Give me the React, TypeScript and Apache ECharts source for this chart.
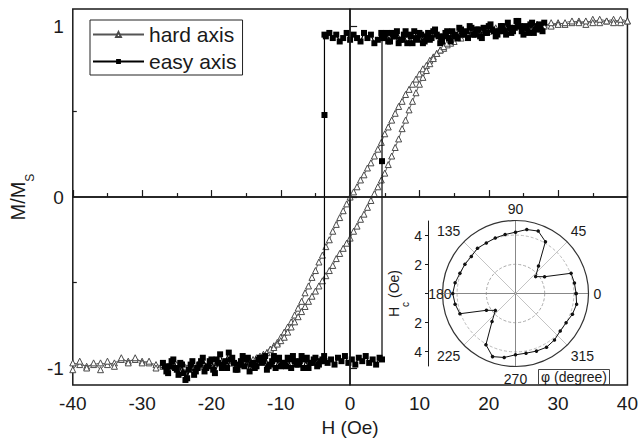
import { useEffect, useRef } from 'react';
import * as echarts from 'echarts';

// Hard axis loop: descending branch (H from +40 to -40) and ascending branch
const hardDown: [number, number][] = [
  [40, 1.03], [39, 1.02], [38, 1.04], [37, 1.03], [36, 1.02], [35, 1.04], [34, 1.01], [33, 1.03],
  [32, 1.02], [31, 1.01], [30, 1.02], [29, 1.0], [28, 1.01], [27, 0.99], [26, 1.0], [25, 0.99],
  [24, 1.0], [23, 0.98], [22, 0.99], [21, 0.98], [20, 0.97], [19, 0.98], [18, 0.96], [17, 0.95],
  [16, 0.93], [15.5, 0.93], [15, 0.91], [14.5, 0.9], [14, 0.89], [13.5, 0.87], [13, 0.86], [12.5, 0.84],
  [12, 0.82], [11.5, 0.8], [11, 0.77], [10.5, 0.75], [10, 0.72], [9.5, 0.69], [9, 0.66], [8.5, 0.63],
  [8, 0.6], [7.5, 0.56], [7, 0.53], [6.5, 0.49], [6, 0.45], [5.5, 0.41], [5, 0.37], [4.5, 0.32],
  [4, 0.28], [3.5, 0.24], [3, 0.2], [2.5, 0.17], [2, 0.13], [1.5, 0.1], [1, 0.06], [0.5, 0.03],
  [0, 0.0], [-0.5, -0.04], [-1, -0.08], [-1.5, -0.12], [-2, -0.16], [-2.5, -0.2], [-3, -0.25], [-3.5, -0.29],
  [-4, -0.34], [-4.5, -0.38], [-5, -0.43], [-5.5, -0.47], [-6, -0.52], [-6.5, -0.56], [-7, -0.61], [-7.5, -0.65],
  [-8, -0.69], [-8.5, -0.73], [-9, -0.76], [-9.5, -0.79], [-10, -0.82], [-10.5, -0.85], [-11, -0.87], [-11.5, -0.89],
  [-12, -0.91], [-12.5, -0.92], [-13, -0.94], [-13.5, -0.95], [-14, -0.96], [-14.5, -0.96], [-15, -0.97], [-15.5, -0.97],
  [-16, -0.98], [-17, -0.97], [-18, -0.98], [-19, -0.97], [-20, -0.98], [-21, -0.99], [-22, -0.98], [-23, -0.99],
  [-24, -0.98], [-25, -0.99], [-26, -0.98], [-27, -0.99], [-28, -0.98], [-29, -0.97], [-30, -0.96], [-31, -0.95],
  [-32, -0.96], [-33, -0.95], [-34, -0.97], [-35, -0.98], [-36, -0.97], [-37, -0.98], [-38, -0.99], [-39, -0.98],
  [-40, -0.97],
];

const hardUp: [number, number][] = [
  [-40, -1.01], [-39, -0.96], [-38, -1.0], [-37, -0.97], [-36, -1.01], [-35, -0.96], [-34, -0.99], [-33, -0.94],
  [-32, -0.97], [-31, -0.94], [-30, -0.97], [-29, -0.96], [-28, -1.0], [-27, -0.98], [-26, -0.99], [-25, -0.98],
  [-24, -0.99], [-23, -0.98], [-22, -0.99], [-21, -0.98], [-20, -0.98], [-19, -0.97], [-18, -0.98], [-17, -0.97],
  [-16, -0.97], [-15.5, -0.96], [-15, -0.96], [-14.5, -0.95], [-14, -0.95], [-13.5, -0.94], [-13, -0.93], [-12.5, -0.92],
  [-12, -0.91], [-11.5, -0.89], [-11, -0.88], [-10.5, -0.86], [-10, -0.84], [-9.5, -0.82], [-9, -0.79], [-8.5, -0.76],
  [-8, -0.73], [-7.5, -0.7], [-7, -0.67], [-6.5, -0.64], [-6, -0.61], [-5.5, -0.58], [-5, -0.55], [-4.5, -0.52],
  [-4, -0.49], [-3.5, -0.46], [-3, -0.43], [-2.5, -0.4], [-2, -0.36], [-1.5, -0.33], [-1, -0.3], [-0.5, -0.27],
  [0, -0.24], [0.5, -0.2], [1, -0.17], [1.5, -0.13], [2, -0.1], [2.5, -0.06], [3, -0.02], [3.5, 0.02],
  [4, 0.06], [4.5, 0.1], [5, 0.14], [5.5, 0.19], [6, 0.24], [6.5, 0.29], [7, 0.34], [7.5, 0.4],
  [8, 0.45], [8.5, 0.51], [9, 0.56], [9.5, 0.61], [10, 0.66], [10.5, 0.7], [11, 0.74], [11.5, 0.78],
  [12, 0.81], [12.5, 0.84], [13, 0.86], [13.5, 0.88], [14, 0.9], [14.5, 0.92], [15, 0.93], [15.5, 0.94],
  [16, 0.95], [17, 0.96], [18, 0.97], [19, 0.98], [20, 0.98], [21, 0.99], [22, 0.98], [23, 0.99],
  [24, 1.0], [25, 0.99], [26, 1.0], [27, 1.01], [28, 1.0], [29, 1.02], [30, 1.01], [31, 1.02],
  [32, 1.03], [33, 1.02], [34, 1.03], [35, 1.02], [36, 1.04], [37, 1.03], [38, 1.02], [39, 1.04],
  [40, 1.03],
];

// Easy axis square loop: descending branch then ascending branch
const easyDown: [number, number][] = [
  [28, 1.02], [27.5, 0.98], [27, 1.0], [26.5, 0.96], [26, 1.01], [25.5, 0.99], [25, 0.95], [24.5, 1.0],
  [24, 1.03], [23.5, 0.97], [23, 0.99], [22.5, 0.95], [22, 1.0], [21.5, 0.97], [21, 0.94], [20.5, 0.98],
  [20, 1.0], [19.5, 0.96], [19, 0.93], [18.5, 0.98], [18, 0.95], [17.5, 0.99], [17, 0.93], [16.5, 0.96],
  [16, 0.98], [15.5, 0.93], [15, 0.95], [14.5, 0.91], [14, 0.97], [13.5, 0.94], [13, 0.9], [12.5, 0.95],
  [12, 0.97], [11.5, 0.92], [11, 0.94], [10.5, 0.9], [10, 0.96], [9.5, 0.93], [9, 0.9], [8.5, 0.95],
  [8, 0.97], [7.5, 0.92], [7, 0.9], [6.5, 0.94], [6, 0.96], [5.5, 0.91], [5, 0.93], [4.5, 0.96],
  [4, 0.92], [3.5, 0.9], [3, 0.95], [2.5, 0.93], [2, 0.96], [1.5, 0.91], [1, 0.93], [0.5, 0.95],
  [0, 0.92], [-0.5, 0.96], [-1, 0.93], [-1.5, 0.91], [-2, 0.95], [-2.5, 0.93], [-3, 0.96], [-3.5, 0.94],
  [-3.7, 0.95], [-3.7, 0.48], [-3.7, -0.96],
  [-4, -0.95], [-4.5, -0.98], [-5, -0.94], [-5.5, -0.97], [-6, -1.0], [-6.5, -0.95], [-7, -0.93], [-7.5, -0.98],
  [-8, -0.96], [-8.5, -1.0], [-9, -0.94], [-9.5, -0.97], [-10, -0.99], [-10.5, -0.95], [-11, -0.93], [-11.5, -0.98],
  [-12, -1.01], [-12.5, -0.96], [-13, -0.94], [-13.5, -0.99], [-14, -0.97], [-14.5, -1.02], [-15, -0.95], [-15.5, -0.93],
  [-16, -0.98], [-16.5, -1.01], [-17, -0.94], [-17.5, -0.91], [-18, -0.96], [-18.5, -1.0], [-19, -0.97], [-19.5, -1.03],
  [-20, -0.95], [-20.5, -0.99], [-21, -1.02], [-21.5, -0.96], [-22, -1.0], [-22.5, -1.04], [-23, -0.98], [-23.5, -1.06],
  [-24, -1.03], [-24.5, -0.97], [-25, -1.01], [-25.5, -0.95], [-26, -0.99], [-26.5, -1.02], [-27, -0.97],
];

const easyUp: [number, number][] = [
  [-26.75, -0.99], [-26.25, -1.03], [-25.75, -0.96], [-25.25, -1.0], [-24.75, -1.04], [-24.25, -0.98], [-23.75, -1.07], [-23.25, -1.01],
  [-22.75, -0.96], [-22.25, -1.02], [-21.75, -0.98], [-21.25, -0.94], [-20.75, -1.0], [-20.25, -0.96], [-19.75, -1.01], [-19.25, -0.95],
  [-18.75, -0.92], [-18.25, -0.98], [-17.75, -1.0], [-17.25, -0.95], [-16.75, -0.97], [-16.25, -1.01], [-15.75, -0.96], [-15.25, -0.99],
  [-14.75, -0.94], [-14.25, -0.98], [-13.75, -1.0], [-13.25, -0.95], [-12.75, -0.97], [-12.25, -0.93], [-11.75, -0.99], [-11.25, -0.96],
  [-10.75, -1.0], [-10.25, -0.94], [-9.75, -0.97], [-9.25, -0.99], [-8.75, -0.95], [-8.25, -0.93], [-7.75, -0.98], [-7.25, -0.96],
  [-6.75, -1.0], [-6.25, -0.94], [-5.75, -0.97], [-5.25, -0.95], [-4.75, -0.99], [-4.25, -0.96], [-3.75, -0.93], [-3.25, -0.97],
  [-2.75, -0.95], [-2.25, -0.98], [-1.75, -0.94], [-1.25, -0.96], [-0.75, -0.93], [-0.25, -0.97], [0.25, -0.95], [0.75, -0.98],
  [1.25, -0.94], [1.75, -0.96], [2.25, -0.93], [2.75, -0.97], [3.25, -0.95], [3.75, -0.98], [4.25, -0.94],
  [4.6, -0.95], [4.6, 0.21], [4.6, 0.95],
  [4.75, 0.93], [5.25, 0.96], [5.75, 0.91], [6.25, 0.94], [6.75, 0.97], [7.25, 0.92], [7.75, 0.95], [8.25, 0.9],
  [8.75, 0.94], [9.25, 0.97], [9.75, 0.92], [10.25, 0.95], [10.75, 0.91], [11.25, 0.96], [11.75, 0.93], [12.25, 0.98],
  [12.75, 0.94], [13.25, 0.91], [13.75, 0.96], [14.25, 0.93], [14.75, 0.97], [15.25, 0.94], [15.75, 0.99], [16.25, 0.95],
  [16.75, 0.97], [17.25, 1.0], [17.75, 0.95], [18.25, 0.98], [18.75, 0.94], [19.25, 0.99], [19.75, 0.96], [20.25, 1.01],
  [20.75, 0.97], [21.25, 0.95], [21.75, 1.0], [22.25, 0.97], [22.75, 1.02], [23.25, 0.96], [23.75, 0.99], [24.25, 1.03],
  [24.75, 0.97], [25.25, 1.0], [25.75, 0.96], [26.25, 1.02], [26.75, 0.98], [27.25, 1.01], [27.75, 0.97],
];

// Inset: coercive field vs angle
const polarAngles = [
  0, 10, 20, 30, 40, 50, 60, 70, 80, 90, 100, 110, 120, 130, 140, 150, 160, 170, 180,
  190, 200, 210, 220, 230, 240, 250, 260, 270, 280, 290, 300, 310, 320, 330, 340, 350, 360,
];
const polarHc = [
  4.15, 4.1, 4.05, 2.3, 1.8, 2.45, 4.1, 4.55, 4.45, 4.2, 4.1, 4.05, 4.0, 4.05, 3.95, 4.0, 4.05, 4.2, 4.3,
  4.2, 4.05, 2.3, 1.8, 2.5, 4.05, 4.6, 4.45, 4.2, 4.15, 4.2, 4.25, 4.15, 4.0, 4.0, 4.15, 4.25, 4.15,
];

const yTickValues = [-1, 0, 1];
const yMinorTickValues = [-0.5, 0.5];
const radialLabelValues = [-4, -2, 2, 4];
const radialTickValues = [-4, -2, 0, 2, 4];

const FONT = '"Liberation Sans", Arial, Helvetica, sans-serif';
const INK = '#1a1a1a';

export default function App() {
  const ref = useRef<HTMLDivElement>(null);

  useEffect(() => {
    const chart = echarts.init(ref.current!, null, { renderer: 'svg' });
    const hardStyle = {
      type: 'line',
      xAxisIndex: 0,
      yAxisIndex: 0,
      symbol: 'triangle',
      symbolSize: 6,
      itemStyle: { color: '#ffffff', borderColor: '#4a4a4a', borderWidth: 1 },
      lineStyle: { color: '#555', width: 0.9 },
      z: 2,
    };
    const easyStyle = {
      type: 'line',
      xAxisIndex: 0,
      yAxisIndex: 0,
      symbol: 'rect',
      symbolSize: 6,
      itemStyle: { color: '#000' },
      lineStyle: { color: '#000', width: 1.2 },
      z: 3,
    };
    chart.setOption({
      animation: false,
      backgroundColor: '#ffffff',
      textStyle: { fontFamily: FONT },
      title: {
        text: 'φ (degree)',
        left: 538,
        top: 369,
        padding: [1, 3, 1, 3],
        borderColor: '#444',
        borderWidth: 1,
        textStyle: { fontSize: 14, fontWeight: 'normal', color: INK, fontFamily: FONT },
      },
      legend: {
        left: 90,
        top: 20,
        orient: 'vertical',
        padding: [4, 6, 3, 2],
        itemGap: 6,
        itemWidth: 51,
        itemHeight: 6,
        borderColor: '#222',
        borderWidth: 1,
        textStyle: { fontSize: 21, color: INK, fontFamily: FONT },
        data: ['hard axis', 'easy axis'],
      },
      grid: [
        { left: 70, right: 12, top: 9, bottom: 54, show: true, borderColor: INK, borderWidth: 1.5 },
        { left: 428, top: 221, width: 1, height: 145, show: false },
      ],
      xAxis: [
        {
          gridIndex: 0,
          type: 'value',
          min: -40,
          max: 40,
          interval: 10,
          name: 'H (Oe)',
          nameLocation: 'middle',
          nameGap: 30,
          nameTextStyle: { fontSize: 19, color: INK, fontFamily: FONT },
          axisLine: { lineStyle: { color: INK, width: 1.5 } },
          axisTick: { inside: true, length: 7, lineStyle: { color: INK, width: 1.2 } },
          minorTick: { show: true, splitNumber: 2, length: 4, lineStyle: { color: INK, width: 1.2 } },
          axisLabel: { fontSize: 19, color: INK, margin: 9, fontFamily: FONT },
          splitLine: { show: false },
        },
        { gridIndex: 1, type: 'value', min: 0, max: 1, show: false },
      ],
      yAxis: [
        {
          gridIndex: 0,
          type: 'value',
          position: 'left',
          min: -1.1,
          max: 1.1,
          name: '{m|M/M}{s|S}',
          nameLocation: 'middle',
          nameRotate: 90,
          nameGap: 30,
          nameTextStyle: {
            color: INK,
            rich: {
              m: { fontSize: 20, lineHeight: 36, verticalAlign: 'middle', color: INK, fontFamily: FONT },
              s: { fontSize: 12, lineHeight: 12, verticalAlign: 'bottom', color: INK, fontFamily: FONT },
            },
          },
          axisLine: { lineStyle: { color: INK, width: 1.5 } },
          axisTick: { inside: true, length: 7, customValues: yTickValues, lineStyle: { color: INK, width: 1.2 } },
          axisLabel: { customValues: yTickValues, fontSize: 19, color: INK, margin: 9, fontFamily: FONT },
          splitLine: { show: false },
        },
        {
          gridIndex: 0,
          type: 'value',
          position: 'left',
          min: -1.1,
          max: 1.1,
          axisLine: { show: false },
          axisTick: { inside: true, length: 4, customValues: yMinorTickValues, lineStyle: { color: INK, width: 1.2 } },
          axisLabel: { show: false },
          splitLine: { show: false },
        },
        {
          gridIndex: 1,
          type: 'value',
          position: 'left',
          min: -5,
          max: 5,
          name: '{m|H}{s|c}{m| (Oe)}',
          nameLocation: 'middle',
          nameRotate: 90,
          nameGap: 10,
          nameTextStyle: {
            color: INK,
            rich: {
              m: { fontSize: 14, lineHeight: 32, verticalAlign: 'middle', color: INK, fontFamily: FONT },
              s: { fontSize: 10, lineHeight: 10, verticalAlign: 'bottom', color: INK, fontFamily: FONT },
            },
          },
          axisLine: { lineStyle: { color: INK, width: 1 } },
          axisTick: { inside: false, length: 3, customValues: radialTickValues, lineStyle: { color: INK, width: 1 } },
          axisLabel: {
            customValues: radialLabelValues,
            formatter: (v: number) => String(Math.abs(v)),
            fontSize: 14,
            color: INK,
            margin: 6,
            fontFamily: FONT,
          },
          splitLine: { show: false },
        },
      ],
      polar: { center: [515.5, 293.5], radius: 73 },
      angleAxis: {
        type: 'value',
        min: 0,
        max: 360,
        interval: 45,
        startAngle: 0,
        clockwise: false,
        axisLine: { lineStyle: { color: '#333', width: 1.2 } },
        axisTick: { show: false },
        axisLabel: {
          fontSize: 14,
          color: INK,
          margin: 5,
          fontFamily: FONT,
          formatter: (v: number) => (v === 360 ? '' : v === 180 ? '{r|180}' : String(v)),
          rich: { r: { fontSize: 14, color: INK, fontFamily: FONT, padding: [0, -14, 0, 0] } },
        },
        splitLine: { show: true, lineStyle: { color: ['#888', '#c4c4c4'], width: 1 } },
      },
      radiusAxis: {
        type: 'value',
        min: 0,
        max: 5,
        interval: 1,
        axisLine: { show: false },
        axisTick: { show: false },
        axisLabel: { show: false },
        splitLine: {
          show: true,
          lineStyle: {
            color: ['transparent', 'transparent', '#aaa', 'transparent', '#bbb', 'transparent'],
            type: [3, 2],
            width: 1,
          },
        },
      },
      series: [
        {
          ...hardStyle,
          name: 'hard axis',
          data: hardDown,
          markLine: {
            silent: true,
            symbol: ['none', 'none'],
            label: { show: false },
            lineStyle: { color: INK, width: 1.5, type: 'solid' },
            data: [{ xAxis: 0 }, { yAxis: 0 }],
          },
        },
        { ...hardStyle, name: 'hard axis', data: hardUp },
        { ...easyStyle, name: 'easy axis', data: easyDown },
        { ...easyStyle, name: 'easy axis', data: easyUp },
        {
          type: 'line',
          coordinateSystem: 'polar',
          polarIndex: 0,
          data: polarAngles.map((a, i) => [polarHc[i], a]),
          symbol: 'circle',
          symbolSize: 3.5,
          itemStyle: { color: '#111' },
          lineStyle: { color: '#111', width: 1 },
          z: 4,
        },
      ],
    });
    return () => chart.dispose();
  }, []);

  return (
    <div
      ref={ref}
      style={{ position: 'fixed', left: 0, top: 0, width: 641, height: 442, background: '#fff' }}
    />
  );
}
